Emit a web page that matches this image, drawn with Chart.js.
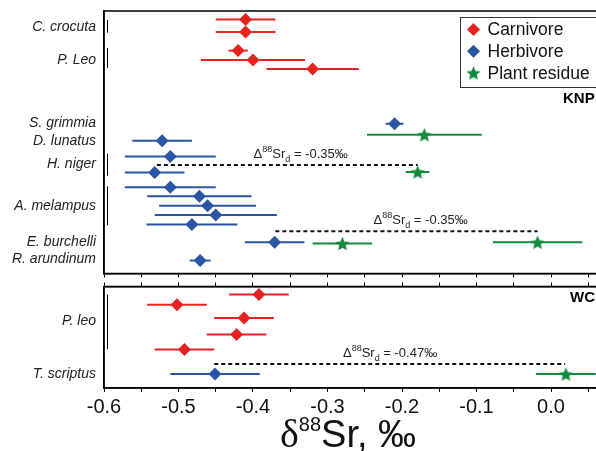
<!DOCTYPE html>
<html>
<head>
<meta charset="utf-8">
<script src="https://cdn.jsdelivr.net/npm/chart.js@4.4.0/dist/chart.umd.min.js"></script>
<style>
html, body { margin: 0; padding: 0; background: #fff; overflow: hidden; }
#wrap { position: relative; width: 596px; height: 451px; overflow: hidden; }
.panel { position: absolute; left: 0; }
</style>
</head>
<body>
<div id="wrap">
  <div class="panel" style="top:0"><canvas id="knpChart" width="660" height="280"></canvas></div>
  <div class="panel" style="top:280px"><canvas id="wcChart" width="660" height="171"></canvas></div>
</div>
<script>
// ---- data (KNP panel) ----
const knpLabels = ['C. crocuta', 'P. Leo', 'S. grimmia', 'D. lunatus', 'H. niger', 'A. melampus', 'E. burchelli', 'R. arundinum'];
const knpLabelRow = [1.6, 4.9, 11.2, 13.0, 15.3, 19.5, 23.2, 24.9];

const knpCarnivoreRow = [0.85, 2.1, 3.97, 4.9, 5.8];
const knpCarnivoreVal = [-0.41, -0.41, -0.42, -0.40, -0.32];
const knpCarnivoreErr = [0.04, 0.04, 0.013, 0.07, 0.062];

const knpHerbivoreRow = [11.3, 13.0, 14.57, 16.17, 17.67, 18.57, 19.5, 20.43, 21.4, 23.17, 25.0];
const knpHerbivoreVal = [-0.21, -0.522, -0.511, -0.532, -0.511, -0.472, -0.461, -0.45, -0.482, -0.371, -0.471];
const knpHerbivoreErr = [0.012, 0.04, 0.061, 0.04, 0.061, 0.07, 0.065, 0.082, 0.061, 0.04, 0.014];

const knpPlantRow = [12.4, 16.13, 23.3, 23.17];
const knpPlantVal = [-0.17, -0.179, -0.28, -0.018];
const knpPlantErr = [0.077, 0.016, 0.04, 0.06];

const knpBrackets = [[0.9, 2.17], [3.7, 5.7], [14.3, 16.5], [17.57, 21.47]];

const knpDeltaFrom = [-0.529, -0.37];
const knpDeltaTo = [-0.179, -0.018];
const knpDeltaRow = [15.43, 22.07];
const knpDeltaTextX = [-0.336, -0.175];
const knpDeltaText = ['-0.35‰', '-0.35‰'];

// ---- data (WC panel) ----
const wcLabels = ['P. leo', 'T. scriptus'];
const wcLabelRow = [3.47, 8.83];

const wcCarnivoreRow = [0.8, 1.83, 3.17, 4.83, 6.33];
const wcCarnivoreVal = [-0.392, -0.502, -0.412, -0.422, -0.492];
const wcCarnivoreErr = [0.04, 0.04, 0.04, 0.04, 0.04];

const wcHerbivoreRow = [8.8];
const wcHerbivoreVal = [-0.451];
const wcHerbivoreErr = [0.06];

const wcPlantRow = [8.8];
const wcPlantVal = [0.02];
const wcPlantErr = [0.04];

const wcBrackets = [[0.8, 6.3]];

const wcDeltaFrom = [-0.452];
const wcDeltaTo = [0.019];
const wcDeltaRow = [7.8];
const wcDeltaTextX = [-0.216];
const wcDeltaText = ['-0.47‰'];

const X_MIN = -0.6, X_MAX = 0.1;

// ---- styles ----
const RED = '#e52421', BLUE = '#2b54a3', GREEN = '#148a3e';
const SANS = '"Liberation Sans", Arial, sans-serif';

function makeStar(color, r) {
    const c = document.createElement('canvas');
    const s = Math.ceil(r * 2) + 2;
    c.width = c.height = s;
    const g = c.getContext('2d');
    g.fillStyle = color;
    g.beginPath();
    for (let i = 0; i < 10; i++) {
        const a = -Math.PI / 2 + i * Math.PI / 5;
        const rr = i % 2 ? r * 0.45 : r;
        g.lineTo(s / 2 + rr * Math.cos(a), s / 2 + rr * Math.sin(a) + 0.8);
    }
    g.closePath();
    g.fill();
    return c;
}
const starImg = makeStar(GREEN, 7.5);

function series(label, vals, rows, errs, color, style) {
    return {
        label: label,
        data: vals.map((v, i) => ({ x: v, y: rows[i], err: errs[i] })),
        borderColor: color,
        backgroundColor: color,
        pointStyle: style,
        pointRadius: 6.5,
        pointBorderWidth: 0,
        showLine: false
    };
}

function xTickLabel(v) {
    const t = Math.round(v * 100);
    return t % 10 === 0 ? (t / 100).toFixed(1) : '';
}

// horizontal error bars, drawn under the markers
const errorBars = {
    id: 'errorBars',
    beforeDatasetsDraw(chart) {
        const { ctx, scales: { x, y } } = chart;
        ctx.save();
        ctx.lineWidth = 2;
        chart.data.datasets.forEach(ds => {
            ctx.strokeStyle = ds.borderColor;
            ds.data.forEach(p => {
                const py = y.getPixelForValue(p.y);
                ctx.beginPath();
                ctx.moveTo(x.getPixelForValue(p.x - p.err), py);
                ctx.lineTo(x.getPixelForValue(p.x + p.err), py);
                ctx.stroke();
            });
        });
        ctx.restore();
    }
};

// frame, group brackets, Δ annotations, panel tag
const decorations = {
    id: 'decorations',
    beforeDatasetsDraw(chart, args, opts) {
        const { ctx, chartArea: a, scales: { x, y } } = chart;
        ctx.save();
        // group brackets
        ctx.strokeStyle = '#000';
        ctx.lineWidth = 1;
        (opts.brackets || []).forEach(([r0, r1]) => {
            ctx.beginPath();
            ctx.moveTo(a.left + 3.5, y.getPixelForValue(r0));
            ctx.lineTo(a.left + 3.5, y.getPixelForValue(r1));
            ctx.stroke();
        });
        // Δ88Sr dashed lines
        const d = opts.delta;
        ctx.setLineDash([4, 3]);
        ctx.lineWidth = 2;
        ctx.strokeStyle = '#111';
        d.from.forEach((f, i) => {
            const py = y.getPixelForValue(d.row[i]);
            ctx.beginPath();
            ctx.moveTo(x.getPixelForValue(f), py);
            ctx.lineTo(x.getPixelForValue(d.to[i]), py);
            ctx.stroke();
        });
        ctx.setLineDash([]);
        // labels
        ctx.fillStyle = '#222';
        ctx.textBaseline = 'alphabetic';
        d.text.forEach((t, i) => {
            const parts = [
                ['Δ', 13, 0], ['88', 9, -6], ['Sr', 13, 0], ['d', 9, 4], [' = ' + t, 13, 0]
            ];
            let w = 0;
            parts.forEach(p => { ctx.font = p[1] + 'px ' + SANS; w += ctx.measureText(p[0]).width; });
            let px = x.getPixelForValue(d.textX[i]) - w / 2;
            const base = y.getPixelForValue(d.row[i]) - 7;
            parts.forEach(p => {
                ctx.font = p[1] + 'px ' + SANS;
                ctx.fillText(p[0], px, base + p[2]);
                px += ctx.measureText(p[0]).width;
            });
        });
        // panel tag
        ctx.font = 'bold 15px ' + SANS;
        ctx.fillStyle = '#000';
        ctx.textBaseline = 'middle';
        ctx.fillText(opts.tag.text, a.left + opts.tag.dx, a.top + opts.tag.dy);
        // frame
        ctx.lineWidth = 1.5;
        ctx.strokeStyle = '#000';
        ctx.strokeRect(a.left, a.top, a.right - a.left, a.bottom - a.top);
        ctx.restore();
    }
};

// boxed legend inside the KNP panel
const boxLegend = {
    id: 'boxLegend',
    afterDatasetsDraw(chart, args, opts) {
        if (!opts.show) return;
        const { ctx } = chart;
        const left = 460.5, top = 17.5, rowH = 21.7;
        ctx.save();
        ctx.strokeStyle = '#333';
        ctx.lineWidth = 1;
        ctx.fillStyle = '#fff';
        ctx.fillRect(left, top, 200, 70);
        ctx.strokeRect(left, top, 200, 70);
        ctx.font = '17.5px ' + SANS;
        ctx.textBaseline = 'middle';
        chart.data.datasets.forEach((ds, i) => {
            const cy = top + 12 + i * rowH;
            const cx = left + 13;
            if (ds.pointStyle === 'rectRot') {
                ctx.fillStyle = ds.backgroundColor;
                ctx.beginPath();
                ctx.moveTo(cx - 6.5, cy); ctx.lineTo(cx, cy - 6.5);
                ctx.lineTo(cx + 6.5, cy); ctx.lineTo(cx, cy + 6.5);
                ctx.closePath();
                ctx.fill();
            } else {
                ctx.drawImage(ds.pointStyle, cx - ds.pointStyle.width / 2, cy - ds.pointStyle.height / 2);
            }
            ctx.fillStyle = '#111';
            ctx.fillText(ds.label, left + 27, cy + 1);
        });
        ctx.restore();
    }
};

// x-axis title with serif delta and superscript
const xTitle = {
    id: 'xTitle',
    afterDraw(chart, args, opts) {
        if (!opts.show) return;
        const { ctx, chartArea: a } = chart;
        ctx.save();
        ctx.fillStyle = '#111';
        ctx.textBaseline = 'alphabetic';
        let px = a.left + 176;
        const base = chart.height - 4;
        ctx.font = '40px "Liberation Serif", "Times New Roman", serif';
        ctx.fillText('δ', px, base);
        px += ctx.measureText('δ').width;
        ctx.font = '20px ' + SANS;
        ctx.fillText('88', px, base - 16);
        px += ctx.measureText('88').width;
        ctx.font = '38px ' + SANS;
        ctx.fillText('Sr, ‰', px, base);
        ctx.restore();
    }
};

function yAxis(max, rows, labels) {
    return {
        type: 'linear', reverse: true, min: 0, max: max,
        afterBuildTicks: s => { s.ticks = rows.map(v => ({ value: v })); },
        afterFit: s => { s.width = 104; s.paddingTop = 0; s.paddingBottom = 0; },
        ticks: {
            autoSkip: false, padding: 8, color: '#222',
            font: { family: SANS, size: 14, style: 'italic' },
            callback: (v, i) => labels[i]
        },
        grid: { display: false, drawTicks: false, tickLength: 0 },
        border: { display: true, color: '#000', width: 1.5 }
    };
}

function xAxis(position, height, showLabels) {
    return {
        type: 'linear', min: X_MIN, max: X_MAX, position: position,
        afterFit: s => { s.height = height; s.paddingLeft = 0; },
        ticks: {
            stepSize: 0.05, display: showLabels, autoSkip: false, maxRotation: 0,
            padding: 3, color: '#111', font: { family: SANS, size: 20 },
            callback: xTickLabel
        },
        grid: { display: true, drawOnChartArea: false, drawTicks: true, tickLength: 4, color: '#000', lineWidth: 1 },
        border: { display: true, color: '#000', width: 1.5 }
    };
}

new Chart(document.getElementById('knpChart'), {
    type: 'scatter',
    data: {
        datasets: [
            series('Carnivore', knpCarnivoreVal, knpCarnivoreRow, knpCarnivoreErr, RED, 'rectRot'),
            series('Herbivore', knpHerbivoreVal, knpHerbivoreRow, knpHerbivoreErr, BLUE, 'rectRot'),
            series('Plant residue', knpPlantVal, knpPlantRow, knpPlantErr, GREEN, starImg)
        ]
    },
    options: {
        responsive: false,
        animation: false,
        layout: { padding: { left: 0, right: 34.5, top: 11, bottom: 0 } },
        plugins: {
            legend: { display: false },
            tooltip: { enabled: false },
            decorations: {
                brackets: knpBrackets,
                delta: { from: knpDeltaFrom, to: knpDeltaTo, row: knpDeltaRow, textX: knpDeltaTextX, text: knpDeltaText },
                tag: { text: 'KNP', dx: 459, dy: 88 }
            },
            boxLegend: { show: true }
        },
        scales: {
            x: xAxis('bottom', 6, false),
            y: yAxis(26.3, knpLabelRow, knpLabels)
        }
    },
    plugins: [errorBars, decorations, boxLegend]
});

new Chart(document.getElementById('wcChart'), {
    type: 'scatter',
    data: {
        datasets: [
            series('Carnivore', wcCarnivoreVal, wcCarnivoreRow, wcCarnivoreErr, RED, 'rectRot'),
            series('Herbivore', wcHerbivoreVal, wcHerbivoreRow, wcHerbivoreErr, BLUE, 'rectRot'),
            series('Plant residue', wcPlantVal, wcPlantRow, wcPlantErr, GREEN, starImg)
        ]
    },
    options: {
        responsive: false,
        animation: false,
        layout: { padding: { left: 0, right: 34.5, top: 0, bottom: 0 } },
        plugins: {
            legend: { display: false },
            tooltip: { enabled: false },
            decorations: {
                brackets: wcBrackets,
                delta: { from: wcDeltaFrom, to: wcDeltaTo, row: wcDeltaRow, textX: wcDeltaTextX, text: wcDeltaText },
                tag: { text: 'WC', dx: 466, dy: 11.5 }
            },
            xTitle: { show: true }
        },
        scales: {
            x: xAxis('bottom', 63, true),
            x2: xAxis('top', 6, false),
            y: yAxis(10.2, wcLabelRow, wcLabels)
        }
    },
    plugins: [errorBars, decorations, xTitle]
});
</script>
</body>
</html>
